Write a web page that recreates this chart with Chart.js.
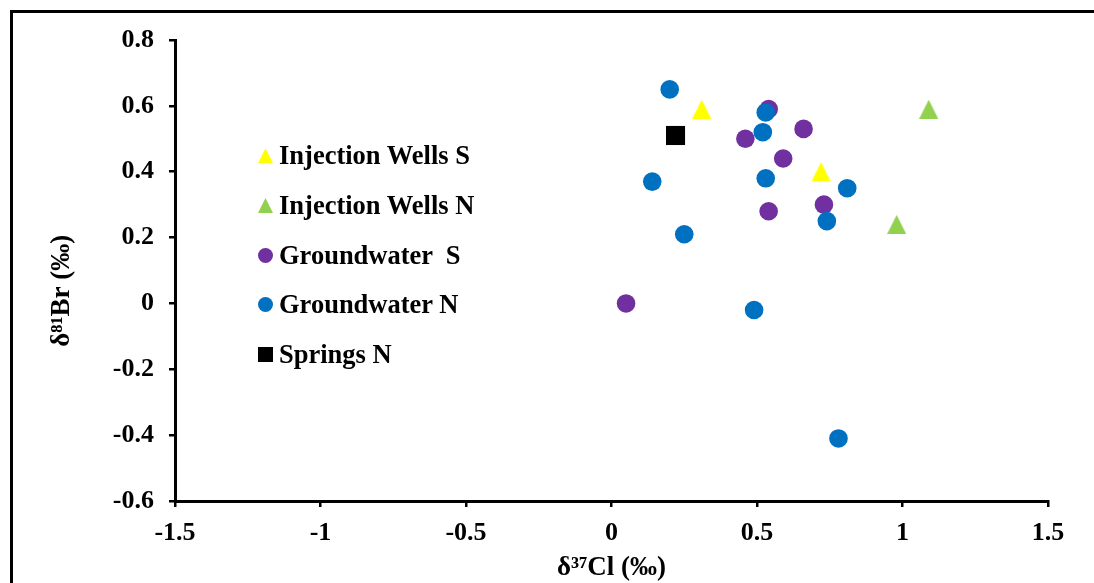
<!DOCTYPE html>
<html>
<head>
<meta charset="utf-8">
<script src="https://cdn.jsdelivr.net/npm/chart.js@4"></script>
<style>
  html, body { margin: 0; padding: 0; background: #fff; overflow: hidden; }
  #wrap { position: relative; width: 1094px; height: 583px; overflow: hidden; }
  #frame { position: absolute; left: 10px; top: 10px; width: 1200px; height: 700px; border: 3px solid #000; }
  #grafico { position: absolute; left: 0; top: 0; }
  #legenda { position: absolute; left: 258px; top: 131px; font: bold 26.5px "Liberation Serif", "Times New Roman", serif; color: #000; }
  .item { height: 49.7px; display: flex; align-items: center; white-space: pre; }
  .marca { width: 15px; height: 15px; margin-right: 6px; flex: none; }
</style>
</head>
<body>
<div id="wrap">
  <div id="frame"></div>
  <canvas id="grafico" width="1094" height="583"></canvas>
  <div id="legenda"></div>
</div>
<script>
// dados
const nomesSeries = ['Injection Wells S', 'Injection Wells N', 'Groundwater  S', 'Groundwater N', 'Springs N'];
const coresSeries = ['#FFFF00', '#92D050', '#7030A0', '#0070C0', '#000000'];
const formasSeries = ['triangulo', 'triangulo', 'circulo', 'circulo', 'quadrado'];

const injecaoSX = [0.31, 0.72];
const injecaoSY = [0.59, 0.40];
const injecaoNX = [1.09, 0.98];
const injecaoNY = [0.59, 0.24];
const aguaSX = [0.54, 0.46, 0.66, 0.59, 0.54, 0.73, 0.05];
const aguaSY = [0.59, 0.50, 0.53, 0.44, 0.28, 0.30, 0.00];
const aguaNX = [0.20, 0.53, 0.52, 0.14, 0.53, 0.81, 0.25, 0.74, 0.49, 0.78];
const aguaNY = [0.65, 0.58, 0.52, 0.37, 0.38, 0.35, 0.21, 0.25, -0.02, -0.41];
const fontesX = [0.22];
const fontesY = [0.51];

const ticksX = [-1.5, -1, -0.5, 0, 0.5, 1, 1.5];
const rotulosX = ['-1.5', '-1', '-0.5', '0', '0.5', '1', '1.5'];
const ticksY = [-0.6, -0.4, -0.2, 0, 0.2, 0.4, 0.6, 0.8];
const rotulosY = ['-0.6', '-0.4', '-0.2', '0', '0.2', '0.4', '0.6', '0.8'];

const fonte = '"Liberation Serif", "Times New Roman", serif';

function pontos(xs, ys) {
    const lista = [];
    for (let i = 0; i < xs.length; i++) {
        lista.push({ x: xs[i], y: ys[i] });
    }
    return lista;
}

function triangulo(cor, tam) {
    const c = document.createElement('canvas');
    c.width = tam;
    c.height = tam;
    const g = c.getContext('2d');
    g.fillStyle = cor;
    g.beginPath();
    g.moveTo(tam / 2, 0);
    g.lineTo(tam, tam);
    g.lineTo(0, tam);
    g.closePath();
    g.fill();
    return c;
}

function serie(i, xs, ys, ordem) {
    const forma = formasSeries[i];
    let estilo = 'circle';
    let raio = 9.3;
    if (forma === 'triangulo') { estilo = triangulo(coresSeries[i], 19); raio = 9.5; }
    if (forma === 'quadrado') { estilo = 'rect'; raio = 13.5; }
    return {
        label: nomesSeries[i],
        data: pontos(xs, ys),
        pointStyle: estilo,
        pointRadius: raio,
        pointHoverRadius: raio,
        backgroundColor: coresSeries[i],
        borderColor: coresSeries[i],
        borderWidth: 0,
        order: ordem
    };
}

const ctx = document.getElementById('grafico').getContext('2d');

new Chart(ctx, {
    type: 'scatter',
    data: {
        datasets: [
            serie(0, injecaoSX, injecaoSY, 0),
            serie(1, injecaoNX, injecaoNY, 0),
            serie(2, aguaSX, aguaSY, 1),
            serie(3, aguaNX, aguaNY, 0),
            serie(4, fontesX, fontesY, 0)
        ]
    },
    options: {
        responsive: false,
        animation: false,
        layout: { padding: { left: 0, right: 46, top: 40, bottom: 0 } },
        plugins: {
            legend: { display: false },
            tooltip: { enabled: false }
        },
        scales: {
            x: {
                type: 'linear',
                min: -1.5,
                max: 1.5,
                afterBuildTicks: (eixo) => { eixo.ticks = ticksX.map(v => ({ value: v })); },
                afterFit: (eixo) => { eixo.height = 82; },
                ticks: {
                    callback: (v, i) => rotulosX[i],
                    color: '#000',
                    padding: 11,
                    maxRotation: 0,
                    font: { family: fonte, size: 26, weight: 'bold' }
                },
                grid: { drawOnChartArea: false, drawTicks: true, tickLength: 6, color: '#000', lineWidth: 2.5 },
                border: { display: true, color: '#000', width: 3 },
                title: {
                    display: true,
                    text: 'δ³⁷Cl (‰)',
                    color: '#000',
                    padding: { top: 0, bottom: 0 },
                    font: { family: fonte, size: 27, weight: 'bold', lineHeight: 1.1 }
                }
            },
            y: {
                type: 'linear',
                min: -0.6,
                max: 0.8,
                afterBuildTicks: (eixo) => { eixo.ticks = ticksY.map(v => ({ value: v })); },
                afterFit: (eixo) => { eixo.width = 175; },
                ticks: {
                    callback: (v, i) => rotulosY[i],
                    color: '#000',
                    padding: 15,
                    font: { family: fonte, size: 26, weight: 'bold' }
                },
                grid: { drawOnChartArea: false, drawTicks: true, tickLength: 6, color: '#000', lineWidth: 2.5 },
                border: { display: true, color: '#000', width: 3 },
                title: {
                    display: true,
                    // espaços no fim empurram o título um pouco para baixo, como no original
                    text: 'δ⁸¹Br (‰)      ',
                    color: '#000',
                    padding: { top: 47, bottom: 0 },
                    font: { family: fonte, size: 27, weight: 'bold', lineHeight: 1.1 }
                }
            }
        }
    }
});

// legenda em HTML dentro da área do gráfico
const legenda = document.getElementById('legenda');
for (let i = 0; i < nomesSeries.length; i++) {
    const item = document.createElement('div');
    item.className = 'item';
    const marca = document.createElement('span');
    marca.className = 'marca';
    marca.style.background = coresSeries[i];
    if (formasSeries[i] === 'triangulo') {
        marca.style.clipPath = 'polygon(50% 0, 100% 100%, 0 100%)';
    } else if (formasSeries[i] === 'circulo') {
        marca.style.borderRadius = '50%';
    }
    item.appendChild(marca);
    item.appendChild(document.createTextNode(nomesSeries[i]));
    legenda.appendChild(item);
}
</script>
</body>
</html>
